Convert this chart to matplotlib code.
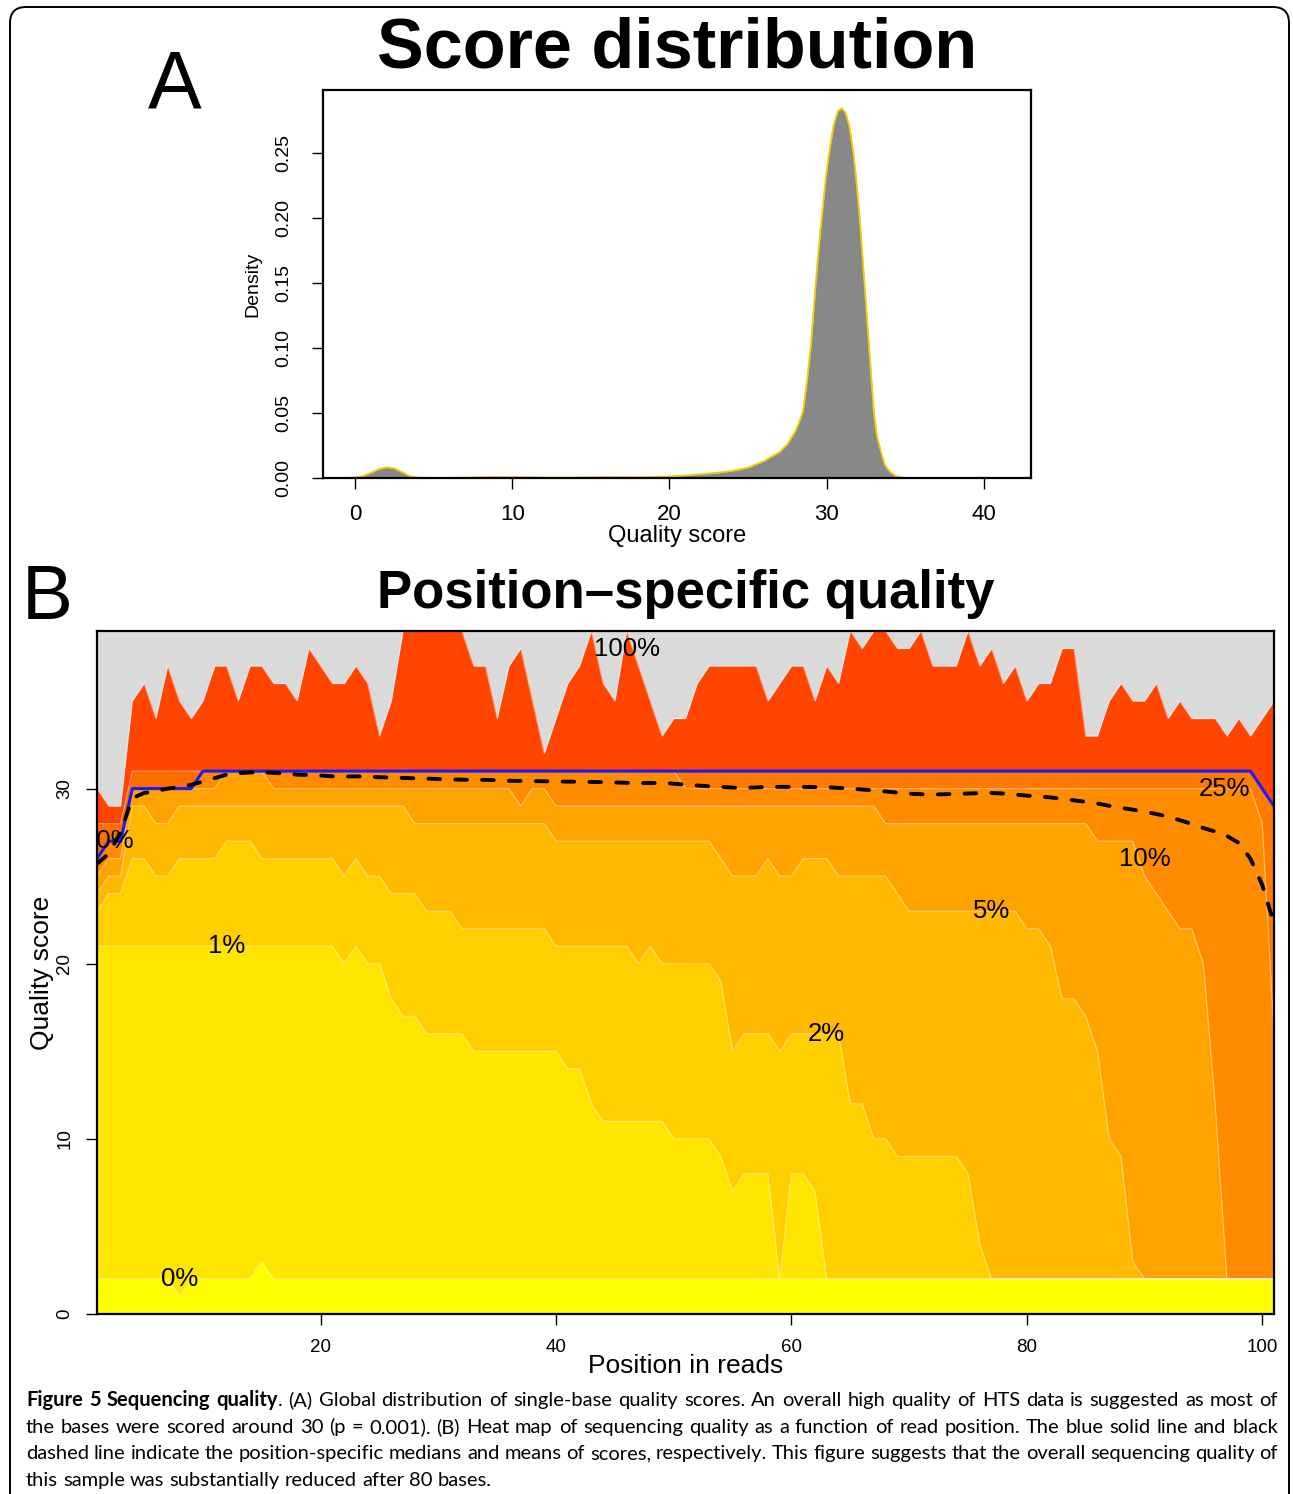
import matplotlib
matplotlib.use('Agg')
import matplotlib.pyplot as plt
from matplotlib.patches import FancyBboxPatch
from matplotlib.transforms import IdentityTransform

plt.rcParams['font.family'] = 'Liberation Sans'

W, H = 1293, 1494

# ---------------- panel A: density of single-base quality scores
score_x = [-0.6, 0.0, 0.5, 1.0, 1.5, 2.0, 2.5, 3.0, 3.5, 4.0, 5.0, 7.0, 9.0, 10.0,
           12.0, 14.0, 16.0, 18.0, 20.0, 21.0, 22.0, 23.0, 24.0, 25.0, 26.0, 27.0,
           27.5, 28.0, 28.25, 28.5, 28.75, 29.0, 29.3, 29.5, 29.7, 29.95, 30.2,
           30.45, 30.7, 30.95, 31.2, 31.45, 31.7, 31.9, 32.1, 32.4, 32.7, 33.0,
           33.2, 33.45, 33.7, 34.0, 34.4, 34.9, 41.6]
score_density = [0.0, 0.0003, 0.0015, 0.004, 0.0068, 0.0082, 0.0075, 0.0045, 0.0015,
                 0.0003, 0.0, 0.0002, 0.0008, 0.0007, 0.0003, 0.0003, 0.0008, 0.0006,
                 0.0012, 0.002, 0.003, 0.004, 0.0055, 0.008, 0.013, 0.02, 0.026,
                 0.036, 0.043, 0.052, 0.075, 0.103, 0.15, 0.178, 0.203, 0.232, 0.254,
                 0.272, 0.282, 0.2845, 0.281, 0.27, 0.25, 0.227, 0.2, 0.15, 0.1,
                 0.05, 0.032, 0.02, 0.01, 0.005, 0.0015, 0.0, 0.0]

# ---------------- panel B: quality quantiles per read position (1..101)
position = list(range(1, 102))

q_min = [2, 2, 2, 2, 2, 2, 2, 1, 2, 2,
         2, 2, 2, 2, 3, 2, 2, 2, 2, 2,
         2, 2, 2, 2, 2, 2, 2, 2, 2, 2,
         2, 2, 2, 2, 2, 2, 2, 2, 2, 2,
         2, 2, 2, 2, 2, 2, 2, 2, 2, 2,
         2, 2, 2, 2, 2, 2, 2, 2, 2, 2,
         2, 2, 2, 2, 2, 2, 2, 2, 2, 2,
         2, 2, 2, 2, 2, 2, 2, 2, 2, 2,
         2, 2, 2, 2, 2, 2, 2, 2, 2, 2,
         2, 2, 2, 2, 2, 2, 2, 2, 2, 2,
         2]
q01 = [21, 21, 21, 21, 21, 21, 21, 21, 21, 21,
       21, 21, 21, 21, 21, 21, 21, 21, 21, 21,
       21, 20, 21, 20, 20, 18, 17, 17, 16, 16,
       16, 16, 15, 15, 15, 15, 15, 15, 15, 15,
       14, 14, 12, 11, 11, 11, 11, 11, 11, 10,
       10, 10, 10, 9, 7, 8, 8, 8, 2, 8,
       8, 7, 2, 2, 2, 2, 2, 2, 2, 2,
       2, 2, 2, 2, 2, 2, 2, 2, 2, 2,
       2, 2, 2, 2, 2, 2, 2, 2, 2, 2,
       2, 2, 2, 2, 2, 2, 2, 2, 2, 2,
       2]
q02 = [23, 24, 24, 26, 26, 25, 25, 26, 26, 26,
       26, 27, 27, 27, 26, 26, 26, 26, 26, 26,
       26, 25, 26, 25, 25, 24, 24, 24, 23, 23,
       23, 22, 22, 22, 22, 22, 22, 22, 22, 21,
       21, 21, 21, 21, 21, 21, 20, 21, 20, 20,
       20, 20, 20, 19, 15, 16, 16, 16, 15, 16,
       16, 16, 16, 16, 12, 12, 10, 10, 9, 9,
       9, 9, 9, 9, 8, 4, 2, 2, 2, 2,
       2, 2, 2, 2, 2, 2, 2, 2, 2, 2,
       2, 2, 2, 2, 2, 2, 2, 2, 2, 2,
       2]
q05 = [24, 25, 25, 29, 29, 28, 28, 29, 29, 29,
       29, 29, 29, 29, 29, 29, 29, 29, 29, 29,
       29, 29, 29, 29, 29, 29, 29, 28, 28, 28,
       28, 28, 28, 28, 28, 28, 28, 28, 28, 27,
       27, 27, 27, 27, 27, 27, 27, 27, 27, 27,
       27, 27, 27, 26, 25, 25, 25, 26, 25, 25,
       26, 26, 26, 25, 25, 25, 25, 25, 24, 23,
       23, 23, 23, 23, 23, 23, 23, 23, 23, 22,
       22, 21, 18, 18, 17, 15, 10, 9, 3, 2,
       2, 2, 2, 2, 2, 2, 2, 2, 2, 2,
       2]
q10 = [25, 26, 26, 30, 30, 30, 30, 30, 30, 30,
       30, 31, 31, 31, 31, 30, 30, 30, 30, 30,
       30, 30, 30, 30, 30, 30, 30, 30, 30, 30,
       30, 30, 30, 30, 30, 30, 29, 30, 30, 29,
       29, 29, 29, 29, 29, 29, 29, 29, 29, 29,
       29, 29, 29, 29, 29, 29, 29, 29, 29, 29,
       29, 29, 29, 29, 29, 29, 29, 28, 28, 28,
       28, 28, 28, 28, 28, 28, 28, 28, 28, 28,
       28, 28, 28, 28, 28, 27, 27, 27, 27, 25,
       24, 23, 22, 22, 20, 12, 2, 2, 2, 2,
       2]
q25 = [26, 27, 27, 30, 30, 30, 30, 30, 30, 31,
       31, 31, 31, 31, 31, 31, 31, 31, 31, 31,
       31, 31, 31, 31, 31, 31, 31, 31, 31, 31,
       31, 31, 31, 31, 31, 31, 31, 31, 31, 31,
       31, 31, 31, 31, 31, 31, 31, 31, 31, 31,
       30, 30, 30, 30, 30, 30, 30, 30, 30, 30,
       30, 30, 30, 30, 30, 30, 30, 30, 30, 30,
       30, 30, 30, 30, 30, 30, 30, 30, 30, 30,
       30, 30, 30, 30, 30, 30, 30, 30, 30, 30,
       30, 30, 30, 30, 30, 30, 30, 30, 30, 28,
       16]
q_median = [26, 27, 27, 30, 30, 30, 30, 30, 30, 31,
            31, 31, 31, 31, 31, 31, 31, 31, 31, 31,
            31, 31, 31, 31, 31, 31, 31, 31, 31, 31,
            31, 31, 31, 31, 31, 31, 31, 31, 31, 31,
            31, 31, 31, 31, 31, 31, 31, 31, 31, 31,
            31, 31, 31, 31, 31, 31, 31, 31, 31, 31,
            31, 31, 31, 31, 31, 31, 31, 31, 31, 31,
            31, 31, 31, 31, 31, 31, 31, 31, 31, 31,
            31, 31, 31, 31, 31, 31, 31, 31, 31, 31,
            31, 31, 31, 31, 31, 31, 31, 31, 31, 30,
            29]
q75 = [28, 28, 28, 31, 31, 31, 31, 31, 31, 31,
       31, 31, 31, 31, 31, 31, 31, 31, 31, 31,
       31, 31, 31, 31, 31, 31, 31, 31, 31, 31,
       31, 31, 31, 31, 31, 31, 31, 31, 31, 31,
       31, 31, 31, 31, 31, 31, 31, 31, 31, 31,
       31, 31, 31, 31, 31, 31, 31, 31, 31, 31,
       31, 31, 31, 31, 31, 31, 31, 31, 31, 31,
       31, 31, 31, 31, 31, 31, 31, 31, 31, 31,
       31, 31, 31, 31, 31, 31, 31, 31, 31, 31,
       31, 31, 31, 31, 31, 31, 31, 31, 31, 30,
       29]
q_max = [30, 29, 29, 35, 36, 34, 37, 35, 34, 35,
         37, 37, 35, 37, 37, 36, 36, 35, 38, 37,
         36, 36, 37, 36, 33, 35, 39, 39, 39, 39,
         39, 39, 37, 37, 34, 37, 38, 35, 32, 34,
         36, 37, 39, 36, 35, 39, 37, 35, 33, 34,
         34, 36, 37, 37, 37, 37, 37, 35, 36, 37,
         37, 35, 37, 36, 39, 38, 39, 39, 38, 38,
         39, 37, 37, 37, 39, 37, 38, 36, 37, 35,
         36, 36, 38, 38, 33, 33, 35, 36, 35, 35,
         36, 34, 35, 34, 34, 34, 33, 34, 33, 34,
         35]
q_mean = [25.7, 26.3, 27.5, 29.45, 29.75, 29.85, 30.0, 30.1, 30.22, 30.4,
          30.6, 30.8, 30.88, 30.92, 30.93, 30.9, 30.86, 30.8, 30.78, 30.75,
          30.7, 30.69, 30.7, 30.68, 30.65, 30.63, 30.61, 30.59, 30.57, 30.55,
          30.53, 30.51, 30.5, 30.5, 30.48, 30.45, 30.44, 30.43, 30.42, 30.41,
          30.4, 30.39, 30.38, 30.37, 30.35, 30.33, 30.32, 30.32, 30.32, 30.28,
          30.23, 30.18, 30.13, 30.1, 30.06, 30.04, 30.07, 30.1, 30.1, 30.1,
          30.1, 30.09, 30.08, 30.04, 30.0, 29.95, 29.9, 29.84, 29.77, 29.71,
          29.68, 29.66, 29.68, 29.7, 29.72, 29.74, 29.75, 29.72, 29.66, 29.6,
          29.55, 29.5, 29.42, 29.33, 29.25, 29.15, 29.02, 28.9, 28.8, 28.68,
          28.55, 28.4, 28.2, 27.98, 27.75, 27.55, 27.3, 26.9, 26.0, 24.5,
          22.3]

contour_text = ['0%', '1%', '2%', '5%', '10%', '25%', '50%', '100%']
contour_x = [8, 12, 63, 77, 90, 96.8, 2.0, 46]
contour_y = [2, 21, 16, 23, 26, 30, 27, 38]

caption_lines = [
    "Figure 5 Sequencing quality. (A) Global distribution of single-base quality scores. An overall high quality of HTS data is suggested as most of",
    "the bases were scored around 30 (p = 0.001). (B) Heat map of sequencing quality as a function of read position. The blue solid line and black",
    "dashed line indicate the position-specific medians and means of scores, respectively. This figure suggests that the overall sequencing quality of",
    "this sample was substantially reduced after 80 bases.",
]


def fx(px):
    return px / W


def fy(py):
    return 1 - py / H


fig = plt.figure(figsize=(W / 100, H / 100), dpi=100)

# rounded frame around the whole figure
frame = FancyBboxPatch((10, -40), 1279, 1527, boxstyle="round,pad=0,rounding_size=16",
                       transform=IdentityTransform(), fill=False, ec='black', lw=1.4)
fig.patches.append(frame)

# ---------------- panel A
axa = fig.add_axes([fx(323), fy(478), fx(1031) - fx(323), fy(90) - fy(478)])
axa.fill_between(score_x, 0, score_density, color='#888888', lw=0)
axa.plot(score_x, score_density, color='#f0d000', lw=1.3)
axa.set_xlim(-2.035, 42.99)
axa.set_ylim(0, 0.2985)
axa.set_xticks([0, 10, 20, 30, 40])
axa.set_yticks([0, 0.05, 0.10, 0.15, 0.20, 0.25])
axa.set_yticklabels(['0.00', '0.05', '0.10', '0.15', '0.20', '0.25'])
axa.tick_params(axis='x', length=8, width=1, labelsize=16, pad=11)
axa.tick_params(axis='y', length=8, width=1, labelsize=14, pad=14, labelrotation=90)
for lab in axa.get_yticklabels():
    lab.set_va('center')
for sp in axa.spines.values():
    sp.set_linewidth(1.6)

fig.text(fx(677), fy(536), 'Quality score', fontsize=17, ha='center', va='center')
fig.text(fx(253), fy(284), 'Density', fontsize=14, ha='center', va='center', rotation=90)
fig.text(fx(677), fy(68), 'Score distribution', fontsize=50.5, weight='bold', ha='center', va='baseline')
fig.text(fx(175), fy(108), 'A', fontsize=58, ha='center', va='baseline')

# ---------------- panel B
axb = fig.add_axes([fx(97), fy(1314), fx(1274) - fx(97), fy(631) - fy(1314)])
axb.set_facecolor('#dadada')

# each fill goes from 0 up to a quantile; later (lower) fills cover earlier ones
band_tops = [q_max, q75, q_median, q25, q10, q05, q02, q01, q_min]
band_colors = ['#ff4500', '#ff6c00', '#ff7b00', '#ff8c00', '#ffa300',
               '#ffb900', '#ffcf00', '#ffe600', '#ffff00']
for top, col in zip(band_tops, band_colors):
    axb.fill_between(position, 0, top, color=col, lw=0)

for line in [q_max, q75, q25, q10, q05, q02, q01, q_min]:
    axb.plot(position, line, color='white', alpha=0.4, lw=0.9)

for txt, x, y in zip(contour_text, contour_x, contour_y):
    axb.text(x, y, txt, fontsize=18.5, ha='center', va='center', clip_on=True)

axb.plot(position, q_median, color='#1a1aff', lw=2.2)
axb.plot(position, q_mean, color='black', lw=2.8, linestyle=(0, (3.0, 3.9)),
         dash_capstyle='round')

axb.set_xlim(1, 101)
axb.set_ylim(0, 39)
axb.set_xticks([20, 40, 60, 80, 100])
axb.set_yticks([0, 10, 20, 30])
axb.tick_params(axis='x', length=8, width=1, labelsize=13.5, pad=10)
axb.tick_params(axis='y', length=8, width=1, labelsize=13.5, pad=9, labelrotation=90)
for lab in axb.get_yticklabels():
    lab.set_va('center')
for sp in axb.spines.values():
    sp.set_linewidth(1.6)

fig.text(fx(686), fy(1366), 'Position in reads', fontsize=19, ha='center', va='center')
fig.text(fx(42), fy(973), 'Quality score', fontsize=19, ha='center', va='center', rotation=90)
fig.text(fx(686), fy(608), 'Position\u2013specific quality', fontsize=38, weight='bold',
         ha='center', va='baseline')
fig.text(fx(47), fy(619), 'B', fontsize=55, ha='center', va='baseline')

# ---------------- caption, justified word by word
cap_font = 'Lato'
cap_size = 14.5
x_left, x_right = 26, 1278
renderer = fig.canvas.get_renderer()

probe_a = fig.text(0, 0, 'a a', fontsize=cap_size, family=cap_font)
probe_b = fig.text(0, 0, 'aa', fontsize=cap_size, family=cap_font)
space_w = probe_a.get_window_extent(renderer).width - probe_b.get_window_extent(renderer).width
probe_a.remove()
probe_b.remove()

baselines = [1406, 1433, 1459, 1486]
for i, line in enumerate(caption_lines):
    words = line.split(' ')
    pieces = []
    for j, w in enumerate(words):
        if i == 0 and j < 4:
            if w.endswith('.'):
                parts = [(w[:-1], 'bold'), ('.', 'normal')]
            else:
                parts = [(w, 'bold')]
        else:
            parts = [(w, 'normal')]
        texts = [fig.text(0, fy(baselines[i]), s, fontsize=cap_size, family=cap_font,
                          weight=wt, va='baseline') for s, wt in parts]
        pieces.append(texts)
    widths = [[t.get_window_extent(renderer).width for t in texts] for texts in pieces]
    total = sum(sum(ws) for ws in widths)
    if i < len(caption_lines) - 1:
        gap = (x_right - x_left - total) / (len(words) - 1)
    else:
        gap = space_w
    x = x_left
    for texts, ws in zip(pieces, widths):
        for t, w in zip(texts, ws):
            t.set_x(fx(x))
            x += w
        x += gap

fig.savefig('out.png', dpi=100)
